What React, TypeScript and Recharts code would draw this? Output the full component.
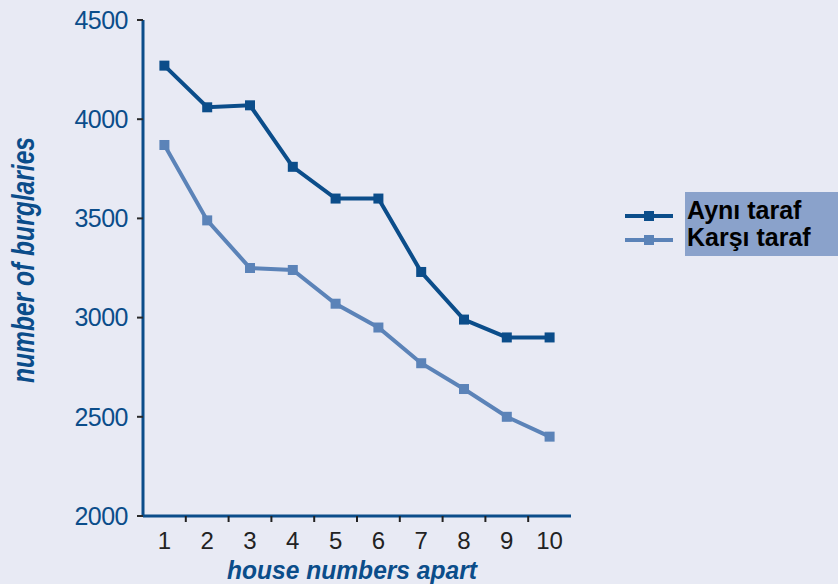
import React from "react";
import { LineChart, Line, XAxis, YAxis, Legend, Label } from "recharts";

// house numbers apart (x categories)
const houseGap = [1, 2, 3, 4, 5, 6, 7, 8, 9, 10];
// burglaries, same side of the street
const sameSide = [4270, 4060, 4070, 3760, 3600, 3600, 3230, 2990, 2900, 2900];
// burglaries, opposite side of the street
const oppositeSide = [3870, 3490, 3250, 3240, 3070, 2950, 2770, 2640, 2500, 2400];
const yTicks = [2000, 2500, 3000, 3500, 4000, 4500];
const seriesNames = ["Aynı taraf", "Karşı taraf"];

const data = houseGap.map((g, i) => ({ gap: g, same: sameSide[i], opposite: oppositeSide[i] }));

const W = 838;
const H = 584;
const MARGIN = { top: 20, right: 267, left: 60, bottom: 0 };
const Y_AXIS_W = 83;
const BAND = (W - MARGIN.left - Y_AXIS_W - MARGIN.right) / houseGap.length;

const DARK = "#0b4d8a";
const LIGHT = "#5b83b8";
const BG = "#e8eaf4";
const FONT = "'Liberation Sans', Arial, sans-serif";

const squareDot = (color: string) => (props: any) => (
  <rect key={`d-${props.index}`} x={props.cx - 5} y={props.cy - 5} width={10} height={10} fill={color} />
);

function XTick(props: any) {
  const { x, y, payload } = props;
  return (
    <g>
      {payload.value > 1 && (
        <line x1={x - BAND / 2} x2={x - BAND / 2} y1={y} y2={y + 6} stroke="#222" strokeWidth={2} />
      )}
      <text x={x} y={y + 33} textAnchor="middle" fill="#222" fontSize={24} fontFamily={FONT}>
        {payload.value}
      </text>
    </g>
  );
}

function LegendBox() {
  const colors = [DARK, LIGHT];
  return (
    <div style={{ display: "flex", alignItems: "stretch" }}>
      <div style={{ width: 65, paddingTop: 12 }}>
        {colors.map((c) => (
          <svg key={c} width={65} height={24} style={{ display: "block" }}>
            <line x1={5} x2={53} y1={12} y2={12} stroke={c} strokeWidth={4} />
            <rect x={24} y={7} width={10} height={10} fill={c} />
          </svg>
        ))}
      </div>
      <div
        style={{
          background: "#8aa2cb",
          padding: "5px 8px 5px 2px",
          width: 143,
          fontFamily: FONT,
          fontWeight: "bold",
          fontSize: 25,
          lineHeight: "27px",
          color: "#000",
        }}
      >
        {seriesNames.map((n) => (
          <div key={n}>{n}</div>
        ))}
      </div>
    </div>
  );
}

export default function App() {
  return (
    <div style={{ position: "absolute", left: 0, top: 0, width: W, height: H, background: BG }}>
      <LineChart width={W} height={H} data={data} margin={MARGIN}>
        <XAxis
          dataKey="gap"
          type="number"
          domain={[0.5, 10.5]}
          ticks={houseGap}
          height={68}
          tickSize={0}
          tickMargin={0}
          tickLine={false}
          axisLine={{ stroke: DARK, strokeWidth: 3 }}
          tick={<XTick />}
        >
          <Label
            content={() => (
              <text
                x={352}
                y={579}
                textAnchor="middle"
                fill={DARK}
                fontFamily={FONT}
                fontSize={26}
                fontWeight="bold"
                fontStyle="italic"
                textLength={250}
                lengthAdjust="spacingAndGlyphs"
              >
                house numbers apart
              </text>
            )}
          />
        </XAxis>
        <YAxis
          width={Y_AXIS_W}
          domain={[2000, 4500]}
          ticks={yTicks}
          interval={0}
          tickSize={6}
          tickMargin={9}
          tickLine={{ stroke: "#2a2a2a", strokeWidth: 2 }}
          axisLine={{ stroke: DARK, strokeWidth: 3 }}
          tick={{ fill: DARK, fontSize: 25, fontFamily: FONT, letterSpacing: -0.5 }}
        >
          <Label
            content={() => (
              <text
                transform="translate(34,260) rotate(-90)"
                textAnchor="middle"
                fill={DARK}
                fontFamily={FONT}
                fontSize={31}
                fontWeight="bold"
                fontStyle="italic"
                textLength={246}
                lengthAdjust="spacingAndGlyphs"
              >
                number of burglaries
              </text>
            )}
          />
        </YAxis>
        <Legend
          layout="horizontal"
          verticalAlign="middle"
          align="center"
          wrapperStyle={{ left: 620, top: 192, width: 218 }}
          content={() => <LegendBox />}
        />
        <Line
          dataKey="same"
          name={seriesNames[0]}
          stroke={DARK}
          strokeWidth={4}
          dot={squareDot(DARK)}
          activeDot={false}
          isAnimationActive={false}
        />
        <Line
          dataKey="opposite"
          name={seriesNames[1]}
          stroke={LIGHT}
          strokeWidth={4}
          dot={squareDot(LIGHT)}
          activeDot={false}
          isAnimationActive={false}
        />
      </LineChart>
    </div>
  );
}
